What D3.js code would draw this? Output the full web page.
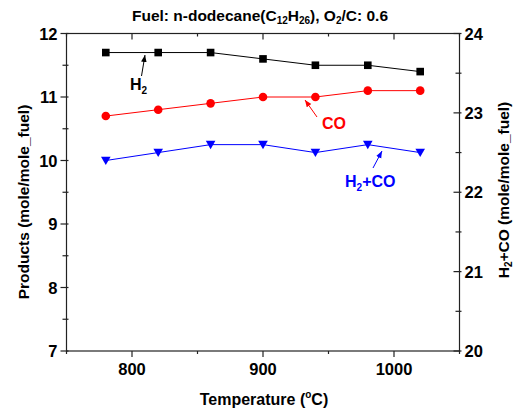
<!DOCTYPE html>
<html><head><meta charset="utf-8">
<script src="https://cdn.jsdelivr.net/npm/d3@7"></script>
<style>
body{margin:0;background:#fff;}
text{font-family:"Liberation Sans",Arial,sans-serif;font-weight:bold;}
</style></head>
<body><svg id="c" width="516" height="412"></svg>
<script>
const temps = [780, 820, 860, 900, 940, 980, 1020];
const h2 = [11.7, 11.7, 11.7, 11.6, 11.5, 11.5, 11.4];
const co = [10.7, 10.8, 10.9, 11.0, 11.0, 11.1, 11.1];
const syngas = [22.4, 22.5, 22.6, 22.6, 22.5, 22.6, 22.5];
const xTicks = [800, 900, 1000];
const xMinor = [750, 850, 950, 1050];
const yLeftTicks = [7, 8, 9, 10, 11, 12];
const yLeftMinor = [7.5, 8.5, 9.5, 10.5, 11.5];
const yRightTicks = [20, 21, 22, 23, 24];
const yRightMinor = [20.5, 21.5, 22.5, 23.5];

const L = 66.5, R = 459.5, T = 33.5, B = 351;
const svg = d3.select('#c');
const x = d3.scaleLinear().domain([750, 1050]).range([L, R]);
const yL = d3.scaleLinear().domain([7, 12]).range([B, T]);
const yR = d3.scaleLinear().domain([20, 24]).range([B, T]);

const defs = svg.append('defs');
function arrowMarker(id, color){
  defs.append('marker').attr('id', id).attr('viewBox', '0 0 10 10')
    .attr('refX', 10).attr('refY', 5).attr('markerWidth', 7).attr('markerHeight', 7)
    .attr('markerUnits', 'userSpaceOnUse').attr('orient', 'auto')
    .append('path').attr('d', 'M0,1 L10,5 L0,9 Z').attr('fill', color);
}
arrowMarker('ak', '#000'); arrowMarker('ar', '#f00'); arrowMarker('ab', '#00f');

const axColor = '#222';
svg.append('rect').attr('x', L).attr('y', T).attr('width', R - L).attr('height', B - T)
  .attr('fill', 'none').attr('stroke', axColor).attr('stroke-width', 1.2);

const g = svg.append('g').attr('stroke', axColor).attr('stroke-width', 1.2);
xTicks.forEach(v => g.append('line').attr('x1', x(v)).attr('x2', x(v)).attr('y1', B).attr('y2', B + 6));
xMinor.forEach(v => g.append('line').attr('x1', x(v)).attr('x2', x(v)).attr('y1', B).attr('y2', B + 3));
xTicks.forEach(v => g.append('line').attr('x1', x(v)).attr('x2', x(v)).attr('y1', T).attr('y2', T + 6));
xMinor.forEach(v => g.append('line').attr('x1', x(v)).attr('x2', x(v)).attr('y1', T).attr('y2', T + 3));
yLeftTicks.forEach(v => g.append('line').attr('x1', L - 6).attr('x2', L + 2).attr('y1', yL(v)).attr('y2', yL(v)));
yLeftMinor.forEach(v => g.append('line').attr('x1', L - 4).attr('x2', L + 2).attr('y1', yL(v)).attr('y2', yL(v)));
yRightTicks.forEach(v => g.append('line').attr('x1', R - 6).attr('x2', R + 2).attr('y1', yR(v)).attr('y2', yR(v)));
yRightMinor.forEach(v => g.append('line').attr('x1', R - 4).attr('x2', R + 2).attr('y1', yR(v)).attr('y2', yR(v)));

const TF = 16.5;
svg.selectAll('.xl').data(xTicks).enter().append('text')
  .attr('x', d => x(d)).attr('y', B + 24).attr('text-anchor', 'middle')
  .attr('font-size', TF).text(d => d);
svg.selectAll('.yl').data(yLeftTicks).enter().append('text')
  .attr('x', L - 9).attr('y', d => yL(d) + 6).attr('text-anchor', 'end')
  .attr('font-size', TF).text(d => d);
svg.selectAll('.yr').data(yRightTicks).enter().append('text')
  .attr('x', R + 5).attr('y', d => yR(d) + 6).attr('text-anchor', 'start')
  .attr('font-size', TF).text(d => d);

// title
const title = svg.append('text').attr('x', 260).attr('y', 21).attr('text-anchor', 'middle').attr('font-size', 15.5);
title.append('tspan').text('Fuel: n-dodecane(C');
title.append('tspan').attr('font-size', 10).attr('dy', 3).text('12');
title.append('tspan').attr('dy', -3).text('H');
title.append('tspan').attr('font-size', 10).attr('dy', 3).text('26');
title.append('tspan').attr('dy', -3).text('), O');
title.append('tspan').attr('font-size', 10).attr('dy', 3).text('2');
title.append('tspan').attr('dy', -3).text('/C: 0.6');

// x title
const xt = svg.append('text').attr('x', 264).attr('y', 405).attr('text-anchor', 'middle').attr('font-size', 16);
xt.append('tspan').text('Temperature (');
xt.append('tspan').attr('font-size', 10).attr('dy', -7).text('o');
xt.append('tspan').attr('dy', 7).text('C)');

// left y title
svg.append('text').attr('transform', `translate(29,202) rotate(-90)`)
  .attr('text-anchor', 'middle').attr('font-size', 15.5).text('Products (mole/mole_fuel)');
// right y title
const rt = svg.append('text').attr('transform', `translate(509,190) rotate(-90)`)
  .attr('text-anchor', 'middle').attr('font-size', 15.5);
rt.append('tspan').text('H');
rt.append('tspan').attr('font-size', 10).attr('dy', 2.5).text('2');
rt.append('tspan').attr('dy', -2.5).text('+CO (mole/mole_fuel)');

// series
const lineL = d3.line().x((d, i) => x(temps[i])).y(d => yL(d));
const lineR = d3.line().x((d, i) => x(temps[i])).y(d => yR(d));
svg.append('path').datum(h2).attr('d', lineL).attr('fill', 'none').attr('stroke', '#000').attr('stroke-width', 1);
svg.append('path').datum(co).attr('d', lineL).attr('fill', 'none').attr('stroke', '#f00').attr('stroke-width', 1);
svg.append('path').datum(syngas).attr('d', lineR).attr('fill', 'none').attr('stroke', '#00f').attr('stroke-width', 1);

svg.selectAll('.sq').data(h2).enter().append('rect')
  .attr('x', (d, i) => x(temps[i]) - 3.8).attr('y', d => yL(d) - 3.8)
  .attr('width', 7.6).attr('height', 7.6).attr('fill', '#000');
svg.selectAll('.ci').data(co).enter().append('circle')
  .attr('cx', (d, i) => x(temps[i])).attr('cy', d => yL(d)).attr('r', 4.3).attr('fill', '#f00');
const tri = d3.symbol().type(d3.symbolTriangle).size(40);
svg.selectAll('.tr').data(syngas).enter().append('path')
  .attr('d', tri).attr('transform', (d, i) => `translate(${x(temps[i])},${yR(d) - 1}) rotate(180)`)
  .attr('fill', '#00f');

// annotations
svg.append('line').attr('x1', 141.5).attr('y1', 76).attr('x2', 145).attr('y2', 55)
  .attr('stroke', '#000').attr('stroke-width', 1).attr('marker-end', 'url(#ak)');
const a1 = svg.append('text').attr('x', 130).attr('y', 90).attr('font-size', 16).attr('fill', '#000');
a1.append('tspan').text('H');
a1.append('tspan').attr('font-size', 10).attr('dy', 4).text('2');

svg.append('line').attr('x1', 317).attr('y1', 117).attr('x2', 305).attr('y2', 100)
  .attr('stroke', '#f00').attr('stroke-width', 1).attr('marker-end', 'url(#ar)');
svg.append('text').attr('x', 322).attr('y', 129).attr('font-size', 16).attr('fill', '#f00').text('CO');

svg.append('line').attr('x1', 373).attr('y1', 168).attr('x2', 382).attr('y2', 151)
  .attr('stroke', '#00f').attr('stroke-width', 1).attr('marker-end', 'url(#ab)');
const a3 = svg.append('text').attr('x', 345).attr('y', 187).attr('font-size', 16).attr('fill', '#00f');
a3.append('tspan').text('H');
a3.append('tspan').attr('font-size', 10).attr('dy', 4).text('2');
a3.append('tspan').attr('dy', -4).text('+CO');
</script></body></html>
